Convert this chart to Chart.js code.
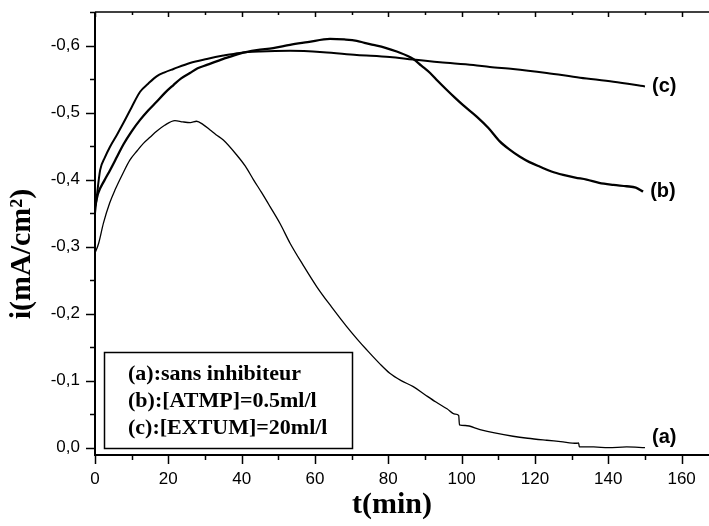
<!DOCTYPE html>
<html>
<head>
<meta charset="utf-8">
<script src="https://cdn.jsdelivr.net/npm/chart.js@4.4.1/dist/chart.umd.min.js"></script>
<style>
  html, body { margin: 0; padding: 0; background: #fff; overflow: hidden; }
  canvas { display: block; }
</style>
</head>
<body>
<canvas id="chronoChart" width="720" height="526"></canvas>
<script>
// Courbes chronoampérométriques : t en minutes, i en mA/cm²
const tA = [0, 1, 2.3, 4, 5.5, 7.5, 9.5, 11.5, 13.2, 15, 16.8, 19, 21.8, 24, 26, 27.7, 29.5, 31.4, 33, 35,
            38.6, 41, 43.2, 45.5, 47.7, 50.5, 53.2, 56.8, 60.5, 64.5, 68.6, 71.5, 74.1, 77.7, 80.4, 83.5,
            86.8, 90, 93, 96, 98.2, 99.2, 99.4, 101, 105, 109, 114, 118, 123.2, 127, 131.4, 131.9, 132.1,
            136, 140, 145, 150];
const iA = [-0.29, -0.305, -0.335, -0.365, -0.385, -0.408, -0.429, -0.443, -0.454, -0.463, -0.472, -0.481,
            -0.488, -0.486, -0.485, -0.487, -0.482, -0.474, -0.467, -0.459, -0.437, -0.42, -0.40, -0.38,
            -0.36, -0.334, -0.305, -0.272, -0.240, -0.210, -0.181, -0.162, -0.146, -0.125, -0.111, -0.100,
            -0.091, -0.079, -0.068, -0.058, -0.050, -0.048, -0.034, -0.033, -0.027, -0.022, -0.017, -0.014,
            -0.011, -0.009, -0.0065, -0.007, -0.001, -0.001, 0.0, -0.001, 0.0];

const tB = [0, 0.9, 2.5, 4.1, 6, 7.7, 10, 12.3, 14.5, 16.8, 19, 21.4, 23.5, 25.9, 28, 30.5, 35, 39.5, 44.1,
            48.6, 53.2, 58, 64.1, 68, 71.4, 73.5, 75.9, 79, 82.3, 86.8, 89, 91.4, 93.5, 95.9, 98, 100.4,
            104.1, 107.3, 110.4, 113, 115.9, 118.5, 121.4, 124.5, 127.7, 131, 134.1, 137.5, 141.4, 145,
            147.5, 149.5];
const iB = [-0.36, -0.38, -0.398, -0.414, -0.434, -0.452, -0.472, -0.489, -0.503, -0.516, -0.529, -0.541,
            -0.551, -0.559, -0.566, -0.571, -0.580, -0.588, -0.593, -0.596, -0.601, -0.605, -0.610, -0.609,
            -0.607, -0.604, -0.601, -0.597, -0.591, -0.580, -0.570, -0.559, -0.547, -0.534, -0.523, -0.511,
            -0.494, -0.477, -0.457, -0.445, -0.434, -0.426, -0.419, -0.412, -0.407, -0.403, -0.400, -0.395,
            -0.392, -0.390, -0.388, -0.382];

const tC = [0, 0.5, 1.4, 2.7, 4.1, 6, 7.7, 10, 12.3, 14.5, 16.8, 19, 21.4, 25.9, 30.5, 35, 39.5, 45, 53.2,
            62.3, 71.4, 80.4, 86.8, 94.1, 103.2, 107.7, 114, 123.2, 132.3, 141.4, 150];
const iC = [-0.35, -0.375, -0.414, -0.433, -0.449, -0.467, -0.484, -0.508, -0.531, -0.543, -0.554, -0.560,
            -0.565, -0.574, -0.580, -0.585, -0.589, -0.591, -0.592, -0.590, -0.586, -0.583, -0.579, -0.575,
            -0.571, -0.568, -0.565, -0.559, -0.552, -0.546, -0.539];

const curveNames = ['(a)', '(b)', '(c)'];
const legendLines = ['(a):sans inhibiteur', '(b):[ATMP]=0.5ml/l', '(c):[EXTUM]=20ml/l'];
const xTicks = [0, 20, 40, 60, 80, 100, 120, 140, 160];
const yTicks = [0, -0.1, -0.2, -0.3, -0.4, -0.5, -0.6];

const SANS = "'Liberation Sans', Arial, sans-serif";
const SERIF = "'Liberation Serif', 'Times New Roman', serif";

function toPoints(ts, vs) {
    return ts.map((t, k) => ({ x: t, y: vs[k] }));
}

function formatCurrent(v) {
    const r = Math.round(v * 10) / 10;
    return r === 0 ? '0,0' : r.toFixed(1).replace('.', ',');
}

// Cadre, graduations, titres d'axes et encadré de légende
const framePlugin = {
    id: 'frame',
    afterDraw(chart) {
        const { ctx, chartArea: a, scales: { x, y } } = chart;
        ctx.save();
        ctx.strokeStyle = '#000';
        ctx.fillStyle = '#000';

        ctx.lineWidth = 2;
        ctx.beginPath();
        ctx.moveTo(a.left, a.top);
        ctx.lineTo(a.left, a.bottom);
        ctx.lineTo(a.right, a.bottom);
        ctx.stroke();
        ctx.lineWidth = 1.5;
        ctx.beginPath();
        ctx.moveTo(a.left, a.top);
        ctx.lineTo(a.right, a.top);
        ctx.stroke();

        // graduations de l'axe t (majeures tous les 20, mineures tous les 10)
        ctx.lineWidth = 1.5;
        for (let t = 0; t <= x.max; t += 10) {
            const px = Math.round(x.getPixelForValue(t)) + 0.5;
            const major = t % 20 === 0;
            ctx.beginPath();
            ctx.moveTo(px, a.bottom);
            ctx.lineTo(px, a.bottom + (major ? 9 : 5));
            ctx.moveTo(px, a.top);
            ctx.lineTo(px, a.top + (major ? 5 : 3));
            ctx.stroke();
        }
        // graduations de l'axe i
        for (let k = 0; k <= 13; k++) {
            const v = -k * 0.05;
            const py = Math.round(y.getPixelForValue(v)) + 0.5;
            const major = k % 2 === 0;
            ctx.beginPath();
            ctx.moveTo(a.left, py);
            ctx.lineTo(a.left - (major ? 9 : 5), py);
            ctx.stroke();
        }

        // titres des axes
        ctx.font = 'bold 30px ' + SERIF;
        ctx.textAlign = 'center';
        ctx.textBaseline = 'middle';
        ctx.fillText('t(min)', 392, 505);
        ctx.save();
        ctx.translate(22, 254);
        ctx.rotate(-Math.PI / 2);
        ctx.fillText('i(mA/cm\u00B2)', 0, 0);
        ctx.restore();

        // encadré de légende
        ctx.lineWidth = 1.5;
        ctx.strokeRect(104.5, 352.5, 248, 96);
        ctx.font = 'bold 22px ' + SERIF;
        ctx.textAlign = 'left';
        ctx.textBaseline = 'middle';
        legendLines.forEach((line, k) => {
            ctx.fillText(line, 128, 374 + k * 27);
        });

        ctx.restore();
    },
    afterDatasetsDraw(chart) {
        const { ctx } = chart;
        ctx.save();
        ctx.fillStyle = '#000';
        ctx.font = 'bold 20px ' + SANS;
        ctx.textAlign = 'left';
        ctx.textBaseline = 'middle';
        chart.data.datasets.forEach((ds, k) => {
            const meta = chart.getDatasetMeta(k);
            const last = meta.data[meta.data.length - 1];
            // (a) finit sur l'axe, son repère est remonté
            const dy = k === 0 ? -10 : 0;
            ctx.fillText(curveNames[k], last.x + 7, last.y + dy);
        });
        ctx.restore();
    }
};

const ctx = document.getElementById('chronoChart').getContext('2d');
new Chart(ctx, {
    type: 'line',
    data: {
        datasets: [
            { data: toPoints(tA, iA), borderColor: '#000', borderWidth: 1.3 },
            { data: toPoints(tB, iB), borderColor: '#000', borderWidth: 2.3 },
            { data: toPoints(tC, iC), borderColor: '#000', borderWidth: 2 }
        ]
    },
    options: {
        responsive: false,
        animation: false,
        devicePixelRatio: 1,
        layout: { padding: { top: 12, right: 1.7, left: 0, bottom: 0 } },
        elements: {
            point: { radius: 0 },
            line: { cubicInterpolationMode: 'monotone', borderJoinStyle: 'round' }
        },
        plugins: {
            legend: { display: false },
            tooltip: { enabled: false }
        },
        scales: {
            x: {
                type: 'linear',
                min: 0,
                max: 170,
                grid: { display: false, drawTicks: false },
                border: { display: false },
                afterBuildTicks(scale) {
                    scale.ticks = xTicks.map(v => ({ value: v }));
                },
                afterFit(scale) {
                    scale.height = 71;
                    scale.paddingLeft = 0;
                    scale.paddingRight = 0;
                },
                ticks: {
                    padding: 14,
                    color: '#000',
                    font: { family: SANS, size: 17 },
                    maxRotation: 0,
                    callback: v => String(v)
                }
            },
            y: {
                type: 'linear',
                min: -0.65,
                max: 0.011,
                reverse: true,
                grid: { display: false, drawTicks: false },
                border: { display: false },
                afterBuildTicks(scale) {
                    scale.ticks = yTicks.map(v => ({ value: v }));
                },
                afterFit(scale) {
                    scale.width = 95;
                    scale.paddingTop = 0;
                    scale.paddingBottom = 0;
                },
                ticks: {
                    padding: 15,
                    color: '#000',
                    font: { family: SANS, size: 17 },
                    callback: formatCurrent
                }
            }
        }
    },
    plugins: [framePlugin]
});
</script>
</body>
</html>
